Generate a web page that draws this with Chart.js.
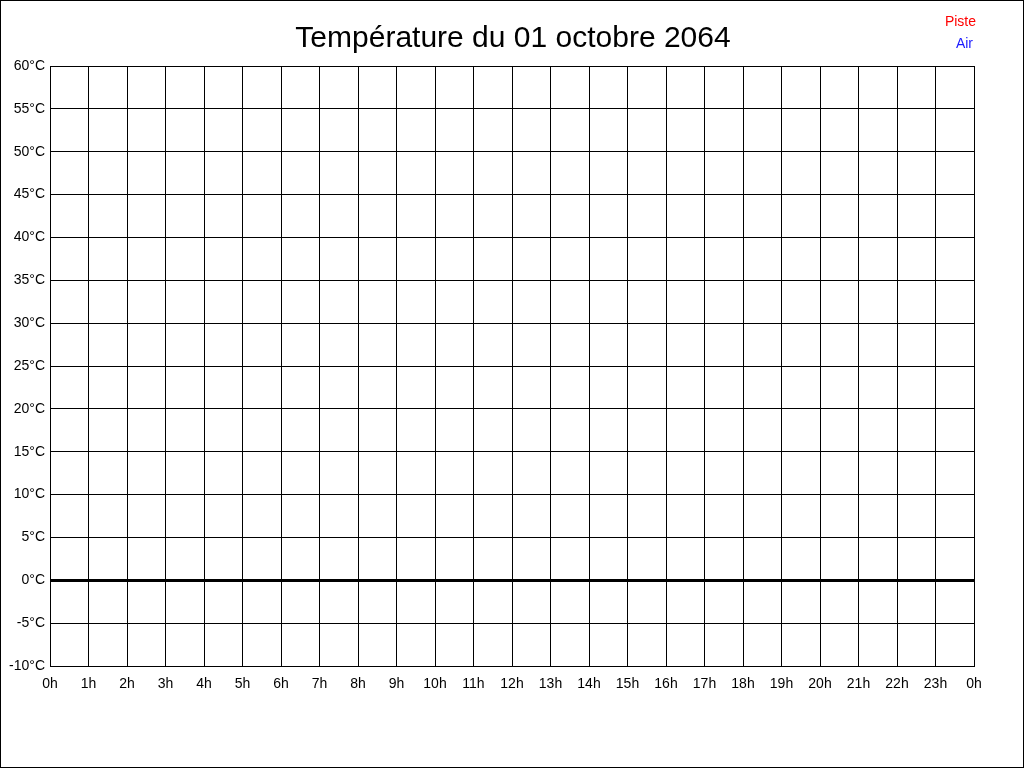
<!DOCTYPE html>
<html>
<head>
<meta charset="utf-8">
<script src="https://cdn.jsdelivr.net/npm/chart.js@4/dist/chart.umd.min.js"></script>
<style>
  html, body { margin: 0; padding: 0; background: #fff; }
  canvas { display: block; }
</style>
</head>
<body>
<canvas id="tempChart" width="1024" height="768"></canvas>
<script>
// données du graphique (aucune mesure pour cette journée)
const chartTitle = 'Température du 01 octobre 2064';
const hours = [0, 1, 2, 3, 4, 5, 6, 7, 8, 9, 10, 11, 12, 13, 14, 15, 16, 17, 18, 19, 20, 21, 22, 23, 24];
const pisteValues = [];
const airValues = [];
const yMin = -10;
const yMax = 60;
const yStep = 5;

// fond blanc, cadre, titre et légende
const decorPlugin = {
    id: 'decor',
    beforeDraw(chart) {
        const c = chart.ctx;
        c.save();
        c.fillStyle = '#fff';
        c.fillRect(0, 0, chart.width, chart.height);
        c.restore();
    },
    afterDraw(chart) {
        const c = chart.ctx;
        c.save();
        c.strokeStyle = '#000';
        c.lineWidth = 1;
        c.strokeRect(0.5, 0.5, chart.width - 1, chart.height - 1);

        c.fillStyle = '#000';
        c.font = '30px "Liberation Sans", Arial, sans-serif';
        c.textAlign = 'center';
        c.textBaseline = 'alphabetic';
        c.fillText(chartTitle, 513, 47);

        c.font = '14px "Liberation Sans", Arial, sans-serif';
        c.textAlign = 'right';
        c.textBaseline = 'middle';
        chart.data.datasets.forEach((ds, i) => {
            c.fillStyle = ds.borderColor;
            c.fillText(ds.label, 976 - i * 3, 22 + i * 22);
        });
        c.restore();
    }
};

const ctx = document.getElementById('tempChart').getContext('2d');
new Chart(ctx, {
    type: 'line',
    data: {
        datasets: [
            { label: 'Piste', data: hours.map((h, i) => ({ x: h, y: pisteValues[i] ?? null })).filter(p => p.y !== null), borderColor: '#ff0000', backgroundColor: '#ff0000', pointRadius: 0 },
            { label: 'Air', data: hours.map((h, i) => ({ x: h, y: airValues[i] ?? null })).filter(p => p.y !== null), borderColor: '#1a1aff', backgroundColor: '#1a1aff', pointRadius: 0 }
        ]
    },
    options: {
        responsive: false,
        devicePixelRatio: 1,
        animation: false,
        layout: { padding: { left: 0, top: 66, right: 50, bottom: 66 } },
        plugins: {
            legend: { display: false },
            title: { display: false },
            tooltip: { enabled: false }
        },
        scales: {
            x: {
                type: 'linear',
                min: hours[0],
                max: hours[hours.length - 1],
                afterFit: s => { s.height = 36; },
                afterBuildTicks: s => { s.ticks = hours.map(h => ({ value: h })); },
                border: { display: true, color: '#000', width: 1 },
                grid: { color: '#000', lineWidth: 1, drawTicks: false },
                ticks: {
                    autoSkip: false,
                    maxRotation: 0,
                    padding: 10,
                    color: '#000',
                    font: { family: '"Liberation Sans", Arial, sans-serif', size: 14 },
                    callback: v => (v % 24) + 'h'
                }
            },
            y: {
                min: yMin,
                max: yMax,
                afterFit: s => { s.width = 50; },
                border: { display: true, color: '#000', width: 1 },
                grid: {
                    color: '#000',
                    drawTicks: false,
                    lineWidth: c => (c.tick && c.tick.value === 0 ? 3 : 1)
                },
                ticks: {
                    stepSize: yStep,
                    padding: 5,
                    color: '#000',
                    font: { family: '"Liberation Sans", Arial, sans-serif', size: 14 },
                    callback: v => v + '°C'
                }
            }
        }
    },
    plugins: [decorPlugin]
});
</script>
</body>
</html>
